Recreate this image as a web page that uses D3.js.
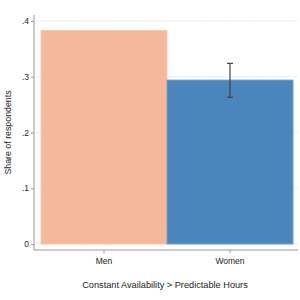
<!DOCTYPE html>
<html>
<head>
<meta charset="utf-8">
<script src="https://cdn.jsdelivr.net/npm/d3@7"></script>
<style>
  body { margin: 0; background: #fff; }
  text { font-family: "Liberation Sans", Arial, sans-serif; fill: #222; }
</style>
</head>
<body>
<div id="chart"></div>
<script>
// bar chart: share of respondents by gender

const GROUPS = ["Men", "Women"];
const SHARES = [0.383, 0.294];
const CI_LOW = [null, 0.263];
const CI_HIGH = [null, 0.324];
const Y_TICKS = [0, 0.1, 0.2, 0.3, 0.4];
const X_TITLE = "Constant Availability > Predictable Hours";
const Y_TITLE = "Share of respondents";

const BAR_COLORS = ["#f6b89c", "#4a85bc"];
const BAR_EDGES = ["#f9c8ae", "#6b9fcf"];

const W = 300, H = 300;
const margin = { top: 15, right: 2, bottom: 50, left: 34 };
const width = W - margin.left - margin.right;
const height = H - margin.top - margin.bottom;

const svg = d3.select('#chart')
    .append('svg')
    .attr('width', W)
    .attr('height', H)
    .append('g')
    .attr('transform', `translate(${margin.left},${margin.top})`);

// y scale: 0 sits 6px above the x axis line
const y = d3.scaleLinear()
    .domain([0, 0.4])
    .range([height - 6, 6]);

const x = d3.scaleBand()
    .domain(GROUPS)
    .range([7, 259])
    .padding(0);

// dotted grid
svg.append('g')
    .selectAll('line')
    .data(Y_TICKS)
    .enter()
    .append('line')
    .attr('x1', 2)
    .attr('x2', width)
    .attr('y1', d => y(d))
    .attr('y2', d => y(d))
    .style('stroke', '#d4d4d4')
    .style('stroke-width', 0.8)
    .style('stroke-dasharray', '1.2,1');

// bars
svg.selectAll('.bar')
    .data(GROUPS)
    .enter()
    .append('rect')
    .attr('class', 'bar')
    .attr('x', d => x(d))
    .attr('width', x.bandwidth())
    .attr('y', (d, i) => y(SHARES[i]))
    .attr('height', (d, i) => y(0) - y(SHARES[i]))
    .style('fill', (d, i) => BAR_COLORS[i])
    .style('stroke', (d, i) => BAR_EDGES[i])
    .style('stroke-width', 1);

// error bars
const ciData = GROUPS.map((g, i) => ({ g, lo: CI_LOW[i], hi: CI_HIGH[i] }))
    .filter(d => d.lo !== null);

const ci = svg.selectAll('.ci')
    .data(ciData)
    .enter()
    .append('g')
    .attr('class', 'ci')
    .style('stroke', '#444')
    .style('stroke-width', 1.2);

ci.append('line')
    .attr('x1', d => x(d.g) + x.bandwidth() / 2)
    .attr('x2', d => x(d.g) + x.bandwidth() / 2)
    .attr('y1', d => y(d.lo))
    .attr('y2', d => y(d.hi));

['lo', 'hi'].forEach(k => {
    ci.append('line')
        .attr('x1', d => x(d.g) + x.bandwidth() / 2 - 3)
        .attr('x2', d => x(d.g) + x.bandwidth() / 2 + 3)
        .attr('y1', d => y(d[k]))
        .attr('y2', d => y(d[k]));
});

// y axis
const yAxis = svg.append('g')
    .call(d3.axisLeft(y)
        .tickValues(Y_TICKS)
        .tickSize(3)
        .tickPadding(2)
        .tickFormat(d => d === 0 ? '0' : d3.format('.1f')(d).replace(/^0/, '')));
yAxis.select('.domain').remove();
yAxis.selectAll('.tick line').style('stroke', '#999');
yAxis.selectAll('text').style('font-size', '8.5px');

svg.append('line')
    .attr('x1', 0).attr('x2', 0)
    .attr('y1', 0).attr('y2', height)
    .style('stroke', '#999')
    .style('stroke-width', 1);

// x axis
const xAxis = svg.append('g')
    .attr('transform', `translate(0,${height})`)
    .call(d3.axisBottom(x).tickSize(3).tickPadding(5));
xAxis.select('.domain').remove();
xAxis.selectAll('.tick line').style('stroke', '#999');
xAxis.selectAll('text').style('font-size', '8.5px');

svg.append('line')
    .attr('x1', 0).attr('x2', width)
    .attr('y1', height).attr('y2', height)
    .style('stroke', '#999')
    .style('stroke-width', 1);

// axis titles
svg.append('text')
    .attr('text-anchor', 'middle')
    .attr('x', width / 2 - 1)
    .attr('y', height + 38)
    .style('font-size', '9.2px')
    .text(X_TITLE);

svg.append('text')
    .attr('text-anchor', 'middle')
    .attr('transform', 'rotate(-90)')
    .attr('x', -height / 2)
    .attr('y', -23)
    .style('font-size', '8.8px')
    .text(Y_TITLE);
</script>
</body>
</html>
